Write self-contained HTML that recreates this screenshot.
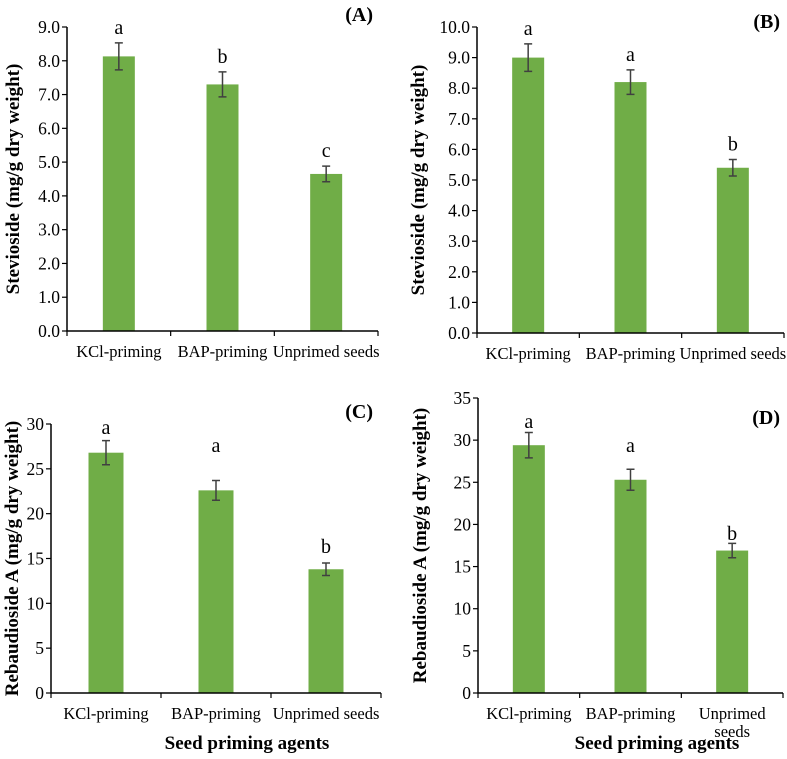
<!DOCTYPE html>
<html><head><meta charset="utf-8">
<style>
html,body{margin:0;padding:0;background:#fff;}
svg text{font-family:"Liberation Serif","Times New Roman","DejaVu Serif",serif;fill:#000;}
</style></head>
<body>
<svg id="chart" width="787" height="754" viewBox="0 0 787 754" xmlns="http://www.w3.org/2000/svg"></svg>
<script>
const categories = ["KCl-priming", "BAP-priming", "Unprimed seeds"];
const steviosideA = [8.13, 7.3, 4.65];
const steviosideAErr = [0.4, 0.37, 0.23];
const steviosideALetters = ["a", "b", "c"];
const steviosideB = [9.0, 8.2, 5.4];
const steviosideBErr = [0.45, 0.4, 0.27];
const steviosideBLetters = ["a", "a", "b"];
const rebaudiosideC = [26.8, 22.6, 13.8];
const rebaudiosideCErr = [1.35, 1.1, 0.7];
const rebaudiosideCLetters = ["a", "a", "b"];
const rebaudiosideD = [29.4, 25.3, 16.9];
const rebaudiosideDErr = [1.5, 1.25, 0.85];
const rebaudiosideDLetters = ["a", "a", "b"];
const ticksAB_A = ["0.0","1.0","2.0","3.0","4.0","5.0","6.0","7.0","8.0","9.0"];
const ticksAB_B = ["0.0","1.0","2.0","3.0","4.0","5.0","6.0","7.0","8.0","9.0","10.0"];
const ticksC = ["0","5","10","15","20","25","30"];
const ticksD = ["0","5","10","15","20","25","30","35"];

const svg = document.getElementById('chart');
const NS = "http://www.w3.org/2000/svg";
const FF = '"Liberation Serif", "Times New Roman", serif';
function mk(tag, attrs, parent){
  const e = document.createElementNS(NS, tag);
  for (const k in attrs) e.setAttribute(k, attrs[k]);
  if (tag === 'text') e.style.fontFamily = FF;
  (parent||svg).appendChild(e);
  return e;
}

function panel(cfg){
  const g = mk('g', {});
  
  
  const ymax = parseFloat(cfg.ticks[cfg.ticks.length-1]);
  const y = v => cfg.y0 - (v / ymax) * (cfg.y0 - cfg.yTop);
  const n = categories.length;
  const step = (cfg.x1 - cfg.x0) / n;
  const xc = i => cfg.x0 + step * (i + 0.5);
  const bw = cfg.bw || 32;
  cfg.values.forEach((v, i) => {
    const r = mk('rect', {x: xc(i) - bw/2, y: y(v), width: bw, height: cfg.y0 - y(v), fill: '#70ad47'}, g);
    
    
    const e = cfg.err[i];
    const eb = mk('path', {d: `M${xc(i)},${y(v+e)}V${y(v-e)}M${xc(i)-4},${y(v+e)}H${xc(i)+4}M${xc(i)-4},${y(v-e)}H${xc(i)+4}`, stroke: '#404040', 'stroke-width': 1.5, fill: 'none'}, g);
    
    
    const lt = mk('text', {x: xc(i), y: cfg.letterY ? cfg.letterY[i] : y(v+e) - 9, 'text-anchor': 'middle', 'font-size': 20}, g);
    lt.textContent = cfg.letters[i];
    
    
  });
  const ax = mk('path', {d: `M${cfg.x0},${cfg.yTop}V${cfg.y0}H${cfg.x1}`, stroke: '#000', 'stroke-width': 1.5, fill: 'none'}, g);
  
  
  cfg.ticks.forEach(t => {
    const yy = y(parseFloat(t));
    mk('line', {x1: cfg.x0 - 5, x2: cfg.x0, y1: yy, y2: yy, stroke: '#000', 'stroke-width': 1.2}, g);
    const tl = mk('text', {x: cfg.x0 - 7, y: yy + 6, 'text-anchor': 'end', 'font-size': 17.5}, g);
    tl.textContent = t;
    
    
  });
  for (let i = 0; i <= n; i++) {
    const xx = cfg.x0 + step * i;
    mk('line', {x1: xx, x2: xx, y1: cfg.y0, y2: cfg.y0 + 5, stroke: '#000', 'stroke-width': 1.2}, g);
  }
  categories.forEach((c, i) => {
    if (cfg.wrapLast && i === n - 1) {
      const t1 = mk('text', {x: xc(i), y: cfg.y0 + 26, 'text-anchor': 'middle', 'font-size': 16.5}, g);
      t1.textContent = 'Unprimed';
      
      
      const t2 = mk('text', {x: xc(i), y: cfg.y0 + 44, 'text-anchor': 'middle', 'font-size': 16.5}, g);
      t2.textContent = 'seeds';
      
      
    } else {
      const t = mk('text', {x: xc(i), y: cfg.y0 + 26, 'text-anchor': 'middle', 'font-size': 16.5}, g);
      t.textContent = c;
      
      
    }
  });
  const yt = mk('text', {x: 0, y: 0, 'text-anchor': 'middle', 'font-size': 19, 'font-weight': 'bold', transform: `translate(${cfg.ytX},${(cfg.y0 + cfg.yTop)/2}) rotate(-90)`}, g);
  yt.textContent = cfg.ytitle;
  
  
  const pl = mk('text', {x: cfg.lblX, y: cfg.lblY, 'text-anchor': 'end', 'font-size': 20, 'font-weight': 'bold'}, g);
  pl.textContent = '(' + cfg.id + ')';
  
  
  if (cfg.xtitle) {
    const xt = mk('text', {x: cfg.xtX, y: cfg.xtY, 'text-anchor': 'middle', 'font-size': 19, 'font-weight': 'bold'}, g);
    xt.textContent = 'Seed priming agents';
    
    
  }
}

panel({id:'A', x0:67, x1:378, y0:331, yTop:27, ticks:ticksAB_A, values:steviosideA, err:steviosideAErr, letters:steviosideALetters, ytitle:'Stevioside (mg/g dry weight)', ytX:19, lblX:373, lblY:21});
panel({id:'B', x0:477, x1:784, y0:333, yTop:27, ticks:ticksAB_B, values:steviosideB, err:steviosideBErr, letters:steviosideBLetters, ytitle:'Stevioside (mg/g dry weight)', ytX:424, lblX:780, lblY:28});
panel({id:'C', x0:51, x1:381, y0:693, yTop:424, ticks:ticksC, values:rebaudiosideC, err:rebaudiosideCErr, letters:rebaudiosideCLetters, letterY:[434, 452, 553], bw:35, ytitle:'Rebaudioside A (mg/g dry weight)', ytX:18, lblX:373, lblY:418, xtitle:true, xtX:247, xtY:749});
panel({id:'D', x0:478, x1:783, y0:693, yTop:398, ticks:ticksD, values:rebaudiosideD, err:rebaudiosideDErr, letters:rebaudiosideDLetters, letterY:[428, 452, 540], ytitle:'Rebaudioside A (mg/g dry weight)', ytX:426, lblX:780, lblY:424, wrapLast:true, xtitle:true, xtX:657, xtY:749});
</script>
</body></html>
